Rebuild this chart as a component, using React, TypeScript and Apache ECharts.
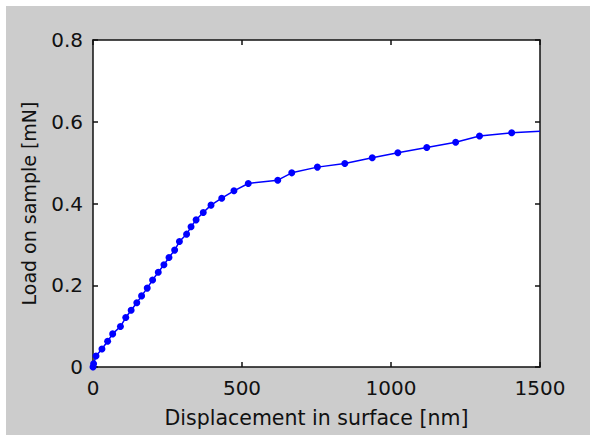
import React, { useEffect, useRef } from "react";
import * as echarts from "echarts";

const displacement = [0, 2, 10, 30, 49, 66, 92, 110, 128, 147, 163, 182, 200, 219, 238, 255, 274, 290, 314, 329, 346, 370, 396, 432, 473, 521, 620, 667, 753, 845, 937, 1023, 1120, 1217, 1297, 1405, 1500];
const load = [0, 0.008, 0.027, 0.044, 0.063, 0.081, 0.099, 0.121, 0.139, 0.157, 0.174, 0.193, 0.213, 0.232, 0.25, 0.268, 0.286, 0.307, 0.325, 0.343, 0.36, 0.378, 0.396, 0.413, 0.431, 0.449, 0.457, 0.475, 0.489, 0.498, 0.512, 0.524, 0.537, 0.55, 0.565, 0.573, 0.577];
const xTicks = [0, 500, 1000, 1500];
const yTicks = [0, 0.2, 0.4, 0.6, 0.8];
const xTitle = "Displacement in surface [nm]";
const yTitle = "Load on sample [mN]";

const FONT = "DejaVu Sans, sans-serif";

export default function App() {
  const ref = useRef<HTMLDivElement>(null);
  useEffect(() => {
    if (!ref.current) return;
    const chart = echarts.init(ref.current, undefined, { renderer: "svg" });
    const data = displacement.map((x, i) => {
      const item: any = { value: [x, load[i]] };
      if (i === displacement.length - 1) item.symbol = "none";
      return item;
    });
    const labelStyle = { color: "#111", fontSize: 20, fontFamily: FONT };
    const frameLine = { color: "#111", width: 1.5 };
    chart.setOption({
      animation: false,
      backgroundColor: "#cccccc",
      grid: { left: 87, top: 34, right: 50, bottom: 68, show: true, backgroundColor: "#ffffff", borderWidth: 0 },
      xAxis: [
        {
          type: "value", min: 0, max: 1500, interval: 500,
          axisLine: { show: true, onZero: false, lineStyle: frameLine },
          axisTick: { show: true, inside: true, length: 5, lineStyle: frameLine },
          axisLabel: { ...labelStyle, margin: 11, formatter: (v: number) => (xTicks.includes(v) ? String(v) : "") },
          splitLine: { show: false },
          name: xTitle, nameLocation: "middle", nameGap: 40,
          nameTextStyle: { ...labelStyle, fontSize: 20.5 },
        },
        {
          type: "value", min: 0, max: 1500, interval: 500, position: "top",
          axisLine: { show: true, onZero: false, lineStyle: frameLine },
          axisTick: { show: true, inside: true, length: 5, lineStyle: frameLine },
          axisLabel: { show: false },
          splitLine: { show: false },
        },
      ],
      yAxis: [
        {
          type: "value", min: 0, max: 0.8, interval: 0.2,
          axisLine: { show: true, onZero: false, lineStyle: frameLine },
          axisTick: { show: true, inside: true, length: 5, lineStyle: frameLine },
          axisLabel: { ...labelStyle, margin: 10, formatter: (v: number) => {
            const t = yTicks.find((k) => Math.abs(k - v) < 1e-9);
            return t === undefined ? "" : t === 0 ? "0" : t.toFixed(1);
          } },
          splitLine: { show: false },
          name: yTitle, nameLocation: "middle", nameGap: 55, nameRotate: 90,
          nameTextStyle: { ...labelStyle, fontSize: 19 },
        },
        {
          type: "value", min: 0, max: 0.8, interval: 0.2, position: "right",
          axisLine: { show: true, onZero: false, lineStyle: frameLine },
          axisTick: { show: true, inside: true, length: 5, lineStyle: frameLine },
          axisLabel: { show: false },
          splitLine: { show: false },
        },
      ],
      series: [
        {
          type: "line",
          xAxisIndex: 0, yAxisIndex: 0,
          data,
          symbol: "circle", symbolSize: 7,
          showSymbol: true,
          lineStyle: { color: "#0000ff", width: 1.5 },
          itemStyle: { color: "#0000ff" },
        },
      ],
    });
    return () => chart.dispose();
  }, []);
  return (
    <div style={{ position: "fixed", left: 0, top: 0, width: 590, height: 435, background: "#ffffff" }}>
      <div ref={ref} style={{ position: "absolute", left: 6, top: 6, width: 584, height: 429 }} />
    </div>
  );
}
